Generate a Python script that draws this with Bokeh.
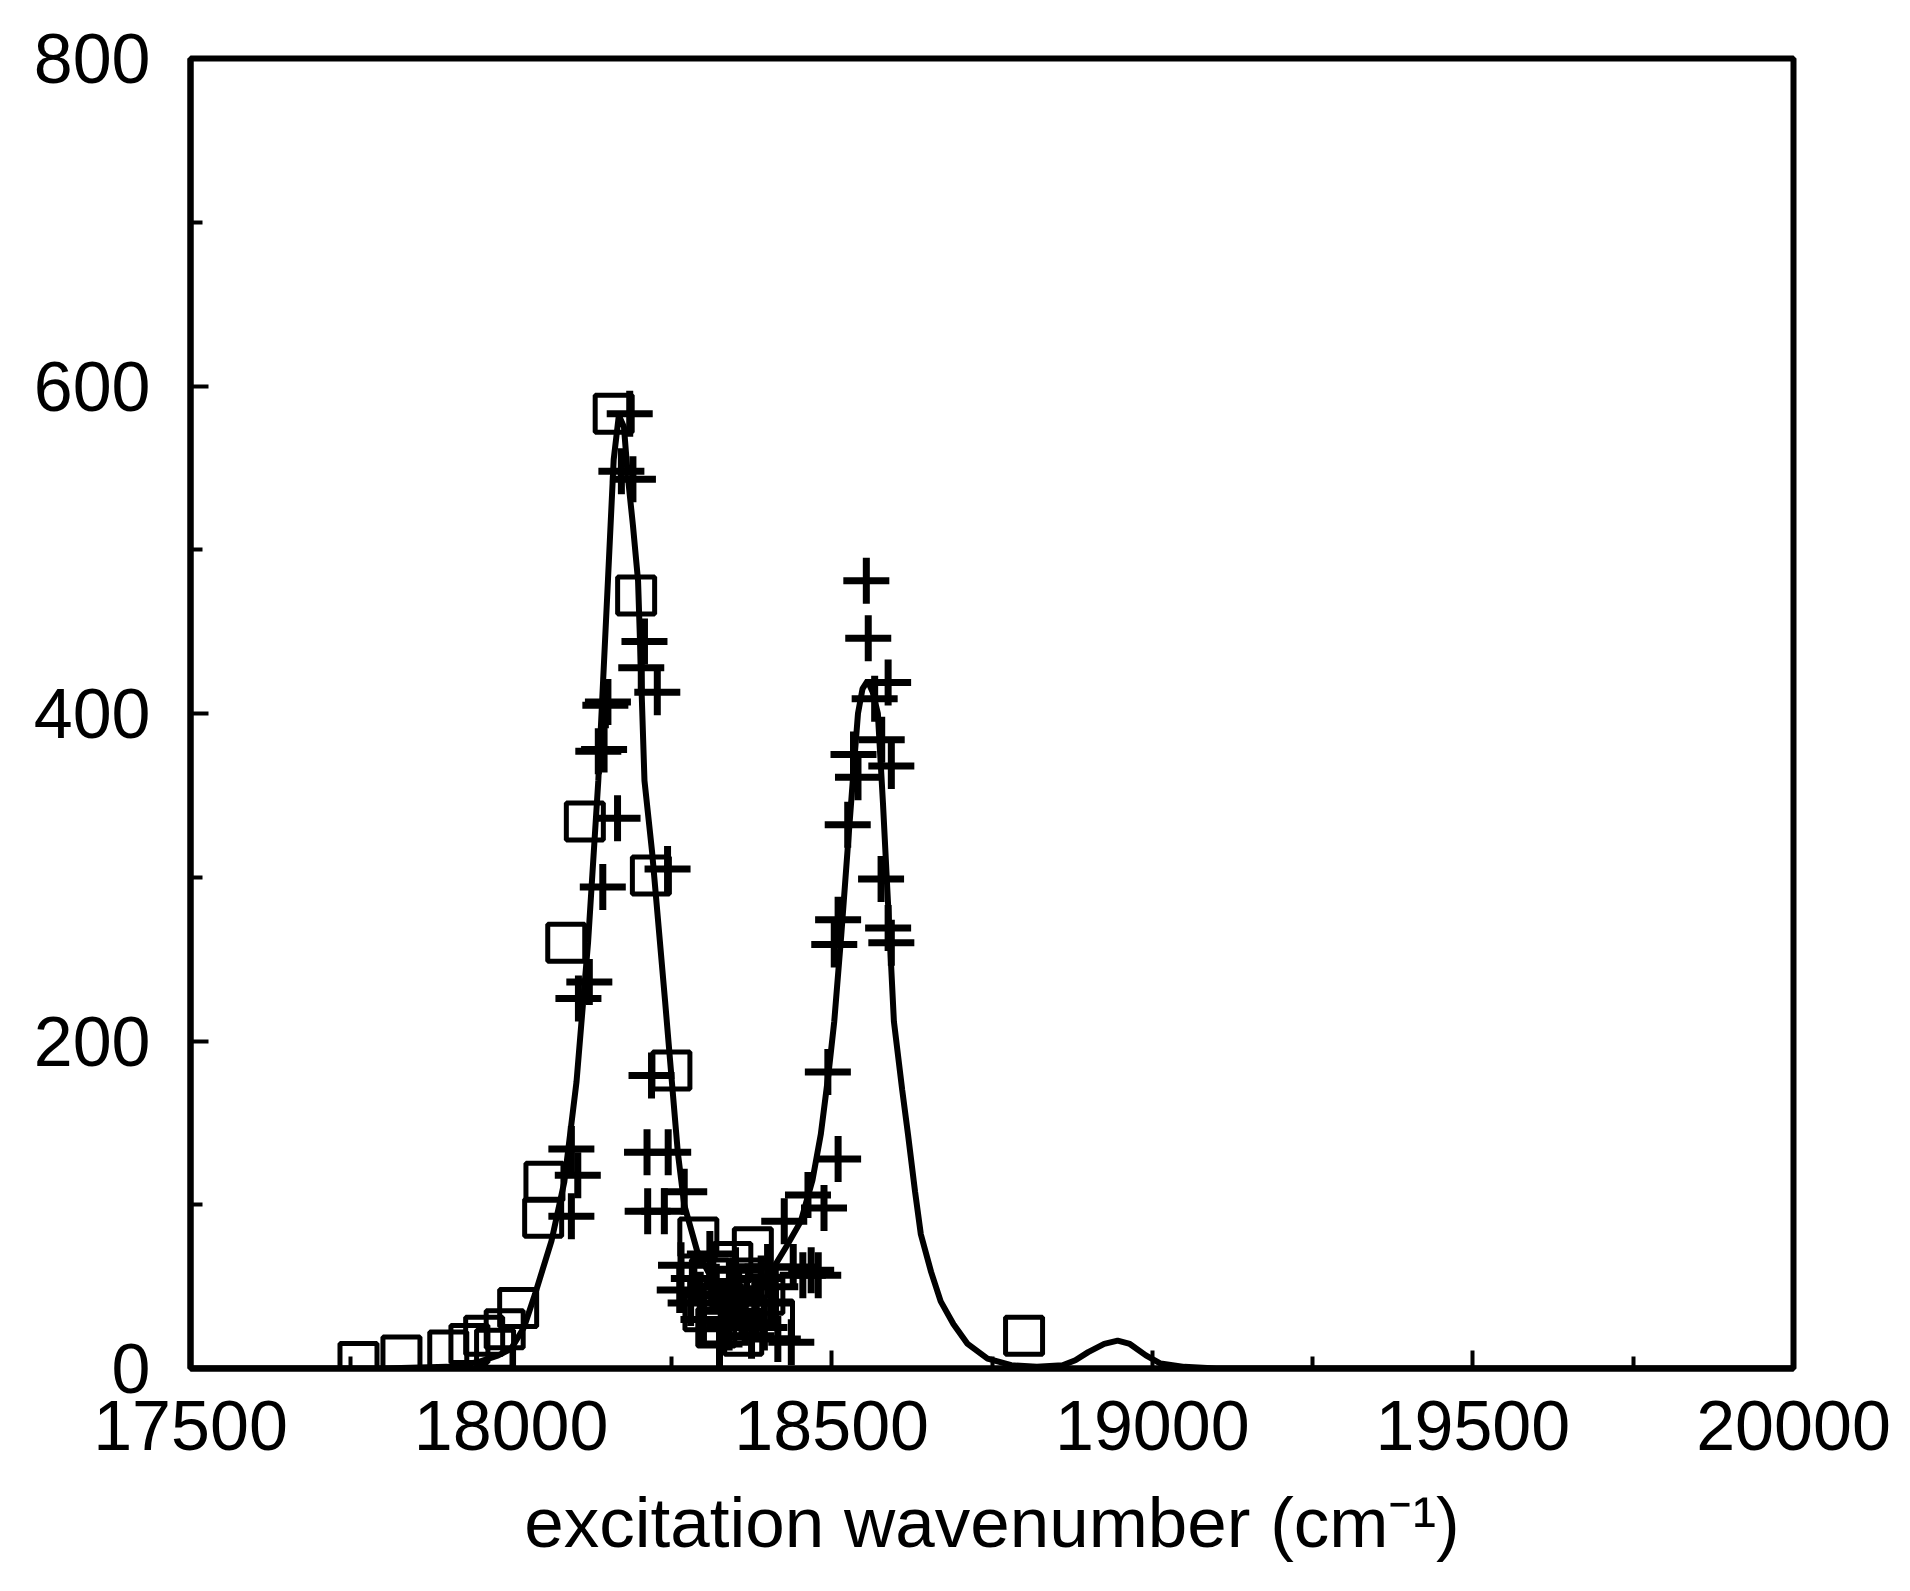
from bokeh.plotting import figure
from bokeh.models import FixedTicker, Range1d
from bokeh.embed import file_html
from bokeh.resources import INLINE

# ---- data ----
sq_x = [17762, 17829, 17902, 17935, 17958, 17975, 17990, 18011, 18050, 18052,
        18086, 18115, 18160, 18195, 18218, 18250, 18292, 18310, 18330, 18345,
        18355, 18377, 18395, 18410, 18300, 18320, 18340, 18370, 18362, 18385,
        18800]
sq_y = [4, 8, 11, 15, 20, 12, 24, 37, 92, 114,
        260, 334, 583, 472, 301, 182, 80, 55, 40, 65,
        30, 74, 45, 30, 35, 25, 50, 55, 20, 38,
        20]

plus_x = [18094, 18104, 18094, 18105, 18122, 18143, 18136, 18147, 18145, 18151,
          18166, 18185, 18172, 18190, 18208, 18203, 18228, 18244, 18219, 18212,
          18213, 18245, 18239, 18263, 18270,
          18280, 18300, 18320, 18340, 18360, 18375, 18390, 18405, 18416, 18350, 18310, 18265,
          18285, 18295, 18330, 18345, 18365, 18380, 18395, 18325, 18355, 18400, 18412,
          18426, 18440, 18455, 18468, 18479, 18437, 18463, 18488, 18510, 18494,
          18504, 18593, 18510, 18588, 18577, 18525, 18541, 18593, 18534, 18578,
          18567, 18588, 18557, 18554]
plus_y = [134, 118, 93, 226, 236, 294, 377, 405, 378, 407,
          336, 583, 548, 543, 444, 428, 413, 305, 179, 132,
          96, 132, 96, 48, 108,
          40, 30, 50, 25, 35, 20, 55, 40, 18, 60, 70, 63,
          55, 45, 35, 45, 28, 40, 25, 15, 48, 62, 50,
          90, 62, 57, 60, 57, 16, 106, 98, 128, 181,
          259, 260, 274, 269, 299, 332, 361, 368, 375, 384,
          409, 419, 446, 481]

fit_x = [17500, 17800, 17900, 17950, 17980, 18000, 18020, 18037, 18063, 18083,
         18102, 18120, 18136, 18151, 18160, 18168, 18176, 18182, 18190, 18198,
         18208, 18220, 18240, 18260, 18270, 18290, 18310, 18330, 18350, 18370,
         18390, 18410, 18430, 18452, 18470, 18483, 18495, 18504, 18515, 18525,
         18535, 18541, 18548, 18556, 18564, 18572, 18580, 18588, 18597, 18610,
         18619, 18630, 18639, 18655, 18670, 18690, 18712, 18743, 18780, 18820,
         18860, 18880, 18900, 18925, 18946, 18965, 18990, 19013, 19050, 19100,
         19500, 20000]
fit_y = [0, 0, 1, 4, 8, 12, 25, 45, 78, 114,
         175, 260, 359, 481, 555, 582, 575, 545, 515, 481,
         359, 315, 225, 132, 100, 72, 57, 49, 45, 46,
         52, 62, 75, 90, 115, 143, 180, 212, 265, 318,
         370, 400, 415, 420, 413, 400, 345, 283, 212, 170,
         143, 108, 82, 59, 41, 27, 15, 6, 2, 1,
         2, 5, 10, 15, 17, 15, 8, 3, 1, 0,
         0, 0]

x_major = [17500, 18000, 18500, 19000, 19500, 20000]
x_minor = [17750, 18250, 18750, 19250, 19750]
y_major = [0, 200, 400, 600, 800]
y_minor = [100, 300, 500, 700]

FONT = "Liberation Sans"

p = figure(width=1894, height=1575, output_backend="svg", toolbar_location=None,
           x_range=Range1d(17500, 20000), y_range=Range1d(0, 800),
           min_border_left=190, min_border_right=101, min_border_top=58,
           min_border_bottom=207, background_fill_color="white",
           border_fill_color="white")

p.grid.visible = False
p.outline_line_color = "black"
p.outline_line_width = 6

p.line(fit_x, fit_y, line_color="black", line_width=6)
p.scatter(sq_x, sq_y, marker="square", size=37, line_color="black",
          line_width=5, fill_alpha=0)
p.scatter(plus_x, plus_y, marker="cross", size=46, line_color="black",
          line_width=7)

for ax in (p.xaxis[0], p.yaxis[0]):
    ax.axis_line_width = 6
    ax.axis_line_color = "black"
    ax.major_tick_out = 0
    ax.minor_tick_out = 0
    ax.major_tick_in = 18
    ax.minor_tick_in = 12
    ax.major_tick_line_width = 4
    ax.minor_tick_line_width = 4
    ax.major_label_text_font = FONT
    ax.major_label_text_font_size = "70px"
    ax.major_label_text_color = "black"

p.xaxis[0].ticker = FixedTicker(ticks=x_major, minor_ticks=x_minor)
p.yaxis[0].ticker = FixedTicker(ticks=y_major, minor_ticks=y_minor)
p.xaxis[0].major_label_standoff = 32
p.yaxis[0].major_label_standoff = 40

p.xaxis[0].axis_label = "excitation wavenumber (cm\u207b\u00b9)"
p.xaxis[0].axis_label_text_font = FONT
p.xaxis[0].axis_label_text_font_size = "71px"
p.xaxis[0].axis_label_text_font_style = "normal"
p.xaxis[0].axis_label_text_color = "black"
p.xaxis[0].axis_label_standoff = 30

open("out.html", "w").write(file_html(p, INLINE))
